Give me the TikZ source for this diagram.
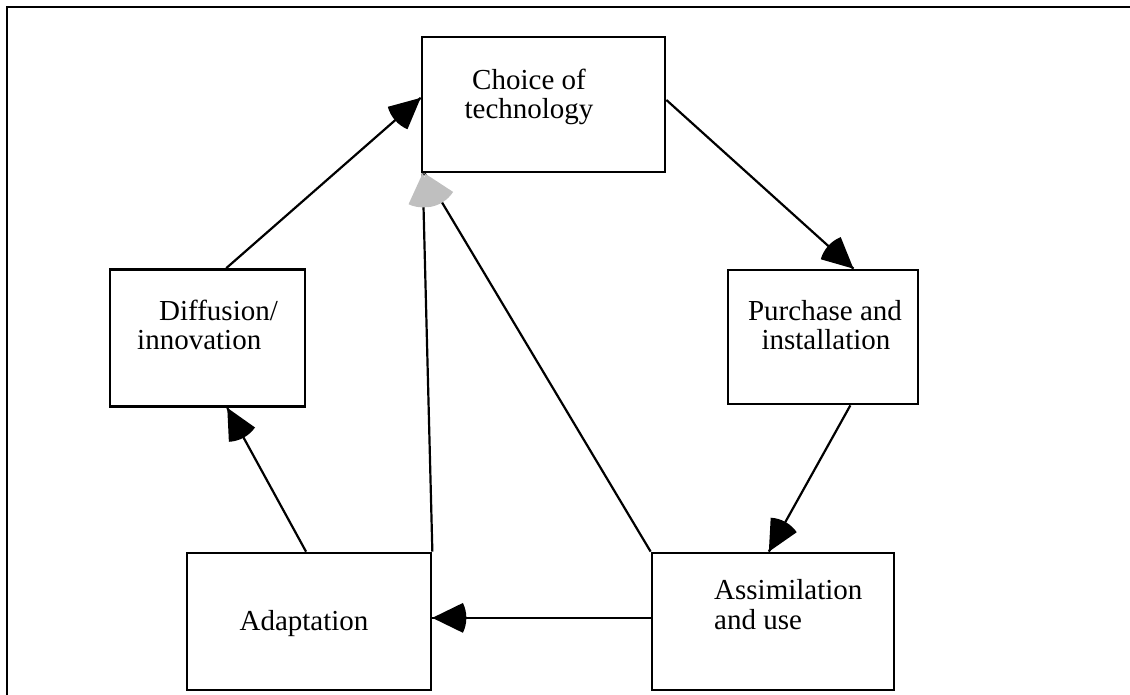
\documentclass[tikz,border=0pt]{standalone}
\usepackage{fontspec}
\setmainfont{Liberation Serif}
\usetikzlibrary{calc}
\tikzset{
  box/.style={draw, line width=2.7pt, rectangle, inner sep=0pt},
  conline/.style={line width=2.2pt},
  lbl/.style={font=\fontsize{29}{30}\selectfont, inner sep=0pt, anchor=base},
  lblw/.style={font=\fontsize{29}{30}\selectfont, inner sep=0pt, anchor=base west},
}
% connector with Word-style sector arrowhead: #1 start, #2 end, #3 fill colour
\newcommand\wconn[3]{%
  \draw[conline] #1 -- #2;
  \path let \p1=#1, \p2=#2, \n1={atan2(\y1-\y2,\x1-\x2)} in
    [fill=#3] (\p2) -- ++(\n1+26:34pt) arc[start angle=\n1+26, end angle=\n1-26, radius=34pt] -- cycle;
}
\begin{document}
\begin{tikzpicture}[x=1pt,y=-1pt]
\useasboundingbox (0,0) rectangle (1130,695);
% outer frame (top and left)
\coordinate (frameR) at (1130,7);
\coordinate (frameC) at (7,7);
\coordinate (frameB) at (7,695);
\draw[line width=2.7pt] (frameR) -- (frameC) -- (frameB);

% boxes
\node[box, minimum width=243pt, minimum height=135pt] (choice) at (543.5,104.5) {};
\node[box, minimum width=190pt, minimum height=134pt] (purch) at (823,337) {};
\node[box, minimum width=195pt, minimum height=137pt] (diff) at (207.5,338) {};
\node[box, minimum width=244pt, minimum height=137pt] (adapt) at (309,621.5) {};
\node[box, minimum width=242pt, minimum height=137pt] (assim) at (773,621.5) {};

% texts
\node[lbl] (choiceA) at (529,90) {Choice of};
\node[lbl] (choiceB) at (529,119) {technology};
\node[lbl] (purchA) at (825,320) {Purchase and};
\node[lbl] (purchB) at (826,349) {installation};
\node[lblw] (diffA) at (159,320) {Diffusion/};
\node[lblw] (diffB) at (137,349) {innovation};
\node[lbl] (adaptA) at (304,630) {Adaptation};
\node[lblw] (assimA) at (714,599) {Assimilation};
\node[lblw] (assimB) at (714,629) {and use};

% connectors
\wconn{($(diff.north west)!0.595!(diff.north east)$)}{($(choice.north west)!0.452!(choice.south west)$)}{black}
\wconn{($(choice.north east)!0.467!(choice.south east)$)}{($(purch.north west)!0.658!(purch.north east)$)}{black}
\wconn{($(purch.south west)!0.642!(purch.south east)$)}{($(assim.north west)!0.483!(assim.north east)$)}{black}
\wconn{($(assim.north west)!0.474!(assim.south west)$)}{($(adapt.north east)!0.474!(adapt.south east)$)}{black}
\wconn{($(adapt.north west)!0.488!(adapt.north east)$)}{($(diff.south west)!0.6!(diff.south east)$)}{black}
\wconn{(adapt.north east)}{($(choice.south west)+(2,0)$)}{gray!50}
\wconn{(assim.north west)}{($(choice.south west)+(4,0)$)}{gray!50}
\end{tikzpicture}
\end{document}
